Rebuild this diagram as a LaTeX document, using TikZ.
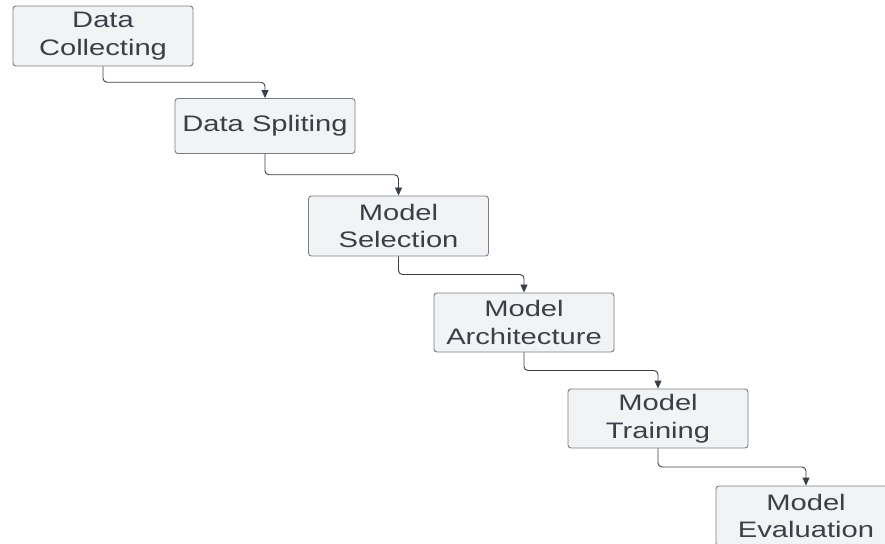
\documentclass[tikz,border=0pt]{standalone}
\usepackage{fontspec}
\setmainfont{Liberation Sans}[FakeStretch=1.3]
\usetikzlibrary{arrows.meta,calc}
\definecolor{boxfill}{HTML}{F2F3F5}
\definecolor{boxline}{HTML}{7A7E84}
\definecolor{ink}{HTML}{3A4048}
\begin{document}
\begin{tikzpicture}[x=1bp,y=-1bp,
  stage/.style={draw=boxline, fill=boxfill, line width=0.9bp, rounded corners=3bp,
    minimum width=180bp, minimum height=59bp, inner sep=0pt, align=center,
    text=ink, font=\fontsize{22.5}{28}\selectfont},
  conn/.style={draw=ink, line width=0.9bp, rounded corners=4bp,
    -{Triangle[length=8bp,width=7bp]}}]
\useasboundingbox (0,0) rectangle (885,544);
\clip (0,0) rectangle (885,544);
\node[stage, minimum height=60bp] (collect) at (103,36) {Data\\Collecting};
\node[stage, minimum height=55bp] (split) at (265,126) {Data Spliting};
\node[stage, minimum height=60bp] (select) at (398.5,226) {Model\\Selection};
\node[stage] (arch) at (524,322.5) {Model\\Architecture};
\node[stage] (train) at (658,418.5) {Model\\Training};
\node[stage, minimum height=60bp] (eval) at (806,516) {Model\\Evaluation};
\foreach \a/\b in {collect/split, split/select, select/arch, arch/train, train/eval}
  \draw[conn] (\a.south) |- ($(\a.south)!.5!(\b.north)$) -| (\b.north);
\end{tikzpicture}
\end{document}
